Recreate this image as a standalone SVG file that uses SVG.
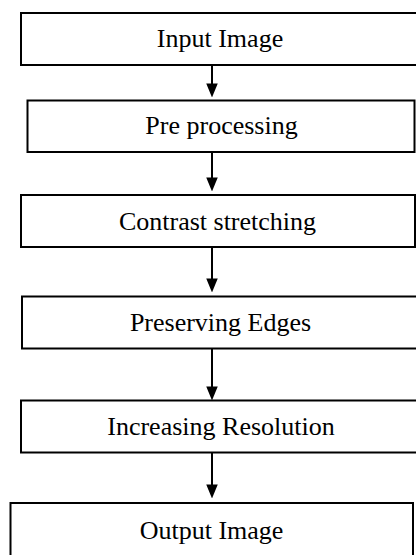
<svg xmlns="http://www.w3.org/2000/svg" width="416" height="555" viewBox="0 0 416 555">
<style>
.box{fill:#fff;stroke:#000;stroke-width:2}
.lbl{font-family:"Liberation Serif","Times New Roman",serif;font-size:26px;fill:#000;text-anchor:middle}
.conn{stroke:#000;stroke-width:2;fill:none;marker-end:url(#ah)}
</style>
<defs>
<marker id="ah" markerUnits="userSpaceOnUse" markerWidth="14" markerHeight="17" refX="14" refY="7" orient="auto" viewBox="0 0 17 14">
<path d="M0,0 L17,7 L0,14 Z" fill="#000"/>
</marker>
</defs>
<rect width="416" height="555" fill="#fff"/>
<g id="n1"><rect class="box" x="21" y="13" width="400" height="52"/><text class="lbl" x="220" y="46.5">Input Image</text></g>
<g id="n2"><rect class="box" x="27.5" y="100.5" width="387" height="51.5"/><text class="lbl" x="221.5" y="133.5">Pre processing</text></g>
<g id="n3"><rect class="box" x="21" y="195" width="394" height="52"/><text class="lbl" x="217.5" y="230">Contrast stretching</text></g>
<g id="n4"><rect class="box" x="22" y="296.5" width="400" height="52"/><text class="lbl" x="220.5" y="331">Preserving Edges</text></g>
<g id="n5"><rect class="box" x="21" y="400.5" width="400" height="52"/><text class="lbl" x="221" y="435">Increasing Resolution</text></g>
<g id="n6"><rect class="box" x="10.5" y="503" width="402.5" height="60"/><text class="lbl" x="211.5" y="539">Output Image</text></g>
<g id="connectors">
<line class="conn" x1="212" y1="65" x2="212" y2="95"/>
<line class="conn" x1="212" y1="152" x2="212" y2="189"/>
<line class="conn" x1="212" y1="247" x2="212" y2="290"/>
<line class="conn" x1="212" y1="348.5" x2="212" y2="398"/>
<line class="conn" x1="212" y1="452.5" x2="212" y2="496"/>
</g>
</svg>
